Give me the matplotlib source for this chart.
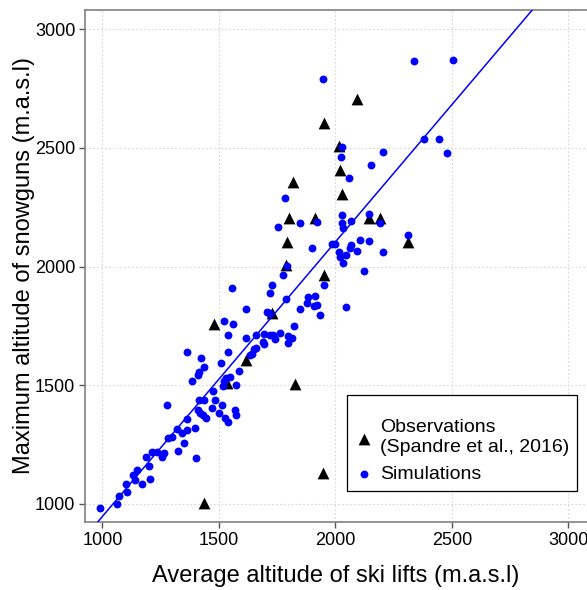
import numpy as np
import matplotlib
matplotlib.use("Agg")
import matplotlib.pyplot as plt

plt.rcParams['font.family'] = ['Liberation Sans', 'DejaVu Sans']

# Observations (Spandre et al., 2016)
obs_x = [1436, 1480, 1534, 1618, 1727, 1826, 1786, 1951, 1794, 1800, 1912, 1816,
         2029, 2021, 2017, 1952, 2094, 2145, 2191, 2313, 1945]
obs_y = [1004, 1757, 1510, 1607, 1804, 1505, 2007, 1964, 2105, 2203, 2203, 2356,
         2306, 2407, 2507, 2606, 2705, 2203, 2203, 2105, 1130]

# Simulations
sim_x = [989, 1062, 1073, 1107, 1101, 1133, 1139, 1150, 1170, 1204, 1200, 1185,
         1212, 1232, 1255, 1262, 1324, 1281, 1300, 1318, 1350, 1343, 1365, 1365,
         1401, 1399, 1277, 1416, 1412, 1418, 1433, 1446, 1436, 1470, 1483, 1502,
         1515, 1528, 1537, 1569, 1575, 1476, 1517, 1521, 1530, 1547, 1575, 1509,
         1584, 1541, 1541, 1521, 1562, 1616, 1361, 1386, 1408, 1414, 1425, 1436,
         1616, 1633, 1642, 1650, 1659, 1659, 1687, 1695, 1695, 1719, 1732, 1740,
         1762, 1796, 1813, 1796, 1823, 1555, 1729, 1719, 1790, 1708, 1717, 1850,
         1878, 1883, 1912, 1906, 1921, 1933, 1951, 2045, 1773, 1791, 1783, 1752,
         1846, 1923, 2030, 2027, 2034, 2069, 2144, 2191, 1898, 1984, 1998, 2062,
         2067, 2091, 2016, 2021, 2044, 2034, 2105, 2144, 2203, 2122, 2313, 1948,
         2338, 2504, 2381, 2443, 2477, 2029, 2022, 2203, 2154, 2058]
sim_y = [983, 1000, 1034, 1051, 1082, 1124, 1101, 1145, 1082, 1105, 1162, 1198,
         1219, 1219, 1198, 1213, 1225, 1276, 1280, 1314, 1257, 1301, 1312, 1358,
         1194, 1320, 1415, 1440, 1396, 1383, 1375, 1364, 1438, 1406, 1438, 1383,
         1419, 1364, 1345, 1394, 1375, 1476, 1497, 1516, 1529, 1535, 1501, 1592,
         1560, 1642, 1710, 1771, 1760, 1821, 1642, 1516, 1543, 1554, 1617, 1579,
         1701, 1628, 1632, 1651, 1655, 1712, 1684, 1674, 1718, 1710, 1712, 1695,
         1722, 1709, 1698, 1677, 1751, 1909, 1922, 1887, 1865, 1810, 1806, 1823,
         1848, 1872, 1878, 1832, 1838, 1796, 1922, 1830, 1963, 2004, 2288, 2168,
         2182, 2186, 2219, 2185, 2164, 2192, 2221, 2182, 2080, 2097, 2094, 2080,
         2089, 2066, 2060, 2040, 2049, 2015, 2114, 2107, 2063, 1981, 2133, 2792,
         2866, 2871, 2539, 2539, 2480, 2502, 2460, 2484, 2430, 2375]

ticks = [1000, 1500, 2000, 2500, 3000]

fig = plt.figure(figsize=(5.87, 5.90), dpi=100)
ax = fig.add_axes([85/587, 68/590, 502/587, 512/590])

ax.set_xlim(925, 3080)
ax.set_ylim(924, 3081)
ax.set_xticks(ticks)
ax.set_yticks(ticks)
ax.grid(True, color='#d6d6d6', linestyle=(0, (1.5, 2)), linewidth=0.8)
ax.set_axisbelow(True)

ax.scatter(obs_x, obs_y, marker='^', s=72, color='black', linewidths=0,
           label='Observations\n(Spandre et al., 2016)', zorder=3)
ax.scatter(sim_x, sim_y, marker='o', s=32, color='#0000ff', linewidths=0,
           label='Simulations', zorder=4)

all_x = np.concatenate([sim_x, obs_x])
all_y = np.concatenate([sim_y, obs_y])
slope, intercept = np.polyfit(all_x, all_y, 1)
ax.axline((1000, 1000 * slope + intercept), slope=slope, color='#0000ff',
          linewidth=1.1, zorder=5)

for side in ['left', 'bottom', 'top']:
    ax.spines[side].set_color('#808080')
    ax.spines[side].set_linewidth(1.2)
ax.spines['right'].set_visible(False)
ax.tick_params(axis='both', which='major', length=4, width=1, color='#555555',
               labelsize=13, labelcolor='black', pad=3)

ax.set_xlabel('Average altitude of ski lifts (m.a.s.l)', fontsize=17, labelpad=12)
ax.set_ylabel('Maximum altitude of snowguns (m.a.s.l)', fontsize=17, labelpad=0)

leg = ax.legend(loc='upper left', bbox_to_anchor=((347 - 85) / 502, (522 - 395) / 512),
                fontsize=14, frameon=True, fancybox=False, edgecolor='black',
                framealpha=1, handletextpad=0.4, borderpad=0.4, labelspacing=0.45,
                handlelength=0.9, borderaxespad=0, title=' ', title_fontsize=5)
leg.get_frame().set_linewidth(0.9)
for t in leg.get_texts():
    t.set_linespacing(1.3)

fig.savefig('out.png', dpi=100)
